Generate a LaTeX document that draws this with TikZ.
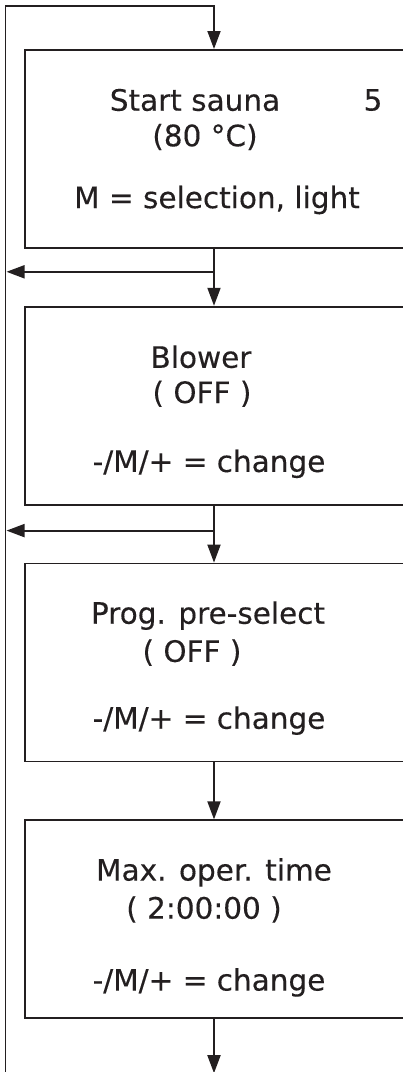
\documentclass[tikz,border=0pt]{standalone}
\usepackage{fontspec}
\newfontfamily\menufont[FakeBold=0.3]{DejaVu Sans}
\usetikzlibrary{positioning,arrows.meta}
\definecolor{ink}{RGB}{35,31,32}
\begin{document}
\begin{tikzpicture}[x=1pt,y=-1pt,
    menubox/.style={draw=ink, line width=1.8pt, minimum width=386pt, minimum height=198pt, inner sep=0pt},
    menutext/.style={text=ink, inner sep=0pt, font=\menufont\fontsize{29.5}{34}\selectfont},
    flow/.style={draw=ink, line width=1.8pt, -{Triangle[length=18pt,width=13pt]}},
    loop/.style={draw=ink, line width=1.8pt}]
            % Page frame
            \useasboundingbox (0,0) rectangle (403,1072);
            \clip (0,0) rectangle (403,1072);

            % Menu boxes
            \node[menubox, anchor=north west] (sauna) at (24,49) {};
            \node[menubox, below=57pt of sauna] (blower) {};
            \node[menubox, below=57pt of blower] (presel) {};
            \node[menubox, below=57pt of presel] (maxtime) {};

            % Box texts
            \node[menutext] (saunaA) at ([shift={(171,51)}]sauna.north west) {Start sauna};
            \node[menutext] (saunaN) at ([shift={(349,51)}]sauna.north west) {5};
            \node[menutext] (saunaB) at ([shift={(181,88)}]sauna.north west) {(80 °C)};
            \node[menutext] (saunaC) at ([shift={(193,151)}]sauna.north west) {M = selection, light};

            \node[menutext] (blowerA) at ([shift={(177,51)}]blower.north west) {Blower};
            \node[menutext] (blowerB) at ([shift={(178,88)}]blower.north west) {( OFF )};
            \node[menutext] (blowerC) at ([shift={(185,158)}]blower.north west) {-/M/+ = change};

            \node[menutext] (preselA) at ([shift={(184,53)}]presel.north west) {Prog. pre-select};
            \node[menutext] (preselB) at ([shift={(168,90)}]presel.north west) {( OFF )};
            \node[menutext] (preselC) at ([shift={(185,158)}]presel.north west) {-/M/+ = change};

            \node[menutext] (maxtimeA) at ([shift={(190,53)}]maxtime.north west) {Max. oper. time};
            \node[menutext] (maxtimeB) at ([shift={(180,90)}]maxtime.north west) {( 2:00:00 )};
            \node[menutext] (maxtimeC) at ([shift={(185,163)}]maxtime.north west) {-/M/+ = change};

            % Return loop
            \coordinate (loopTL) at (5.5,6);
            \coordinate (loopBL) at (5.5,1072.5);
            \coordinate (exit) at ([shift={(190,54)}]maxtime.south west);
            \draw[flow] (loopBL) -- (loopTL) -| ([xshift=190pt]sauna.north west);
            \draw[loop, draw=ink!25] (exit |- loopBL) -- (loopBL);

            % Flow between boxes
            \draw[flow] ([xshift=190pt]sauna.south west) -- ([xshift=190pt]blower.north west);
            \draw[flow] ([xshift=190pt]blower.south west) -- ([xshift=190pt]presel.north west);
            \draw[flow] ([xshift=190pt]presel.south west) -- ([xshift=190pt]maxtime.north west);
            \draw[flow] ([xshift=190pt]maxtime.south west) -- (exit);

            % Branches back to the loop
            \coordinate (branchA) at ([shift={(190,23)}]sauna.south west);
            \coordinate (branchB) at ([shift={(190,25)}]blower.south west);
            \draw[flow, shorten >=1pt] (branchA) -- (branchA -| loopTL);
            \draw[flow, shorten >=1pt] (branchB) -- (branchB -| loopTL);
        \end{tikzpicture}
\end{document}
